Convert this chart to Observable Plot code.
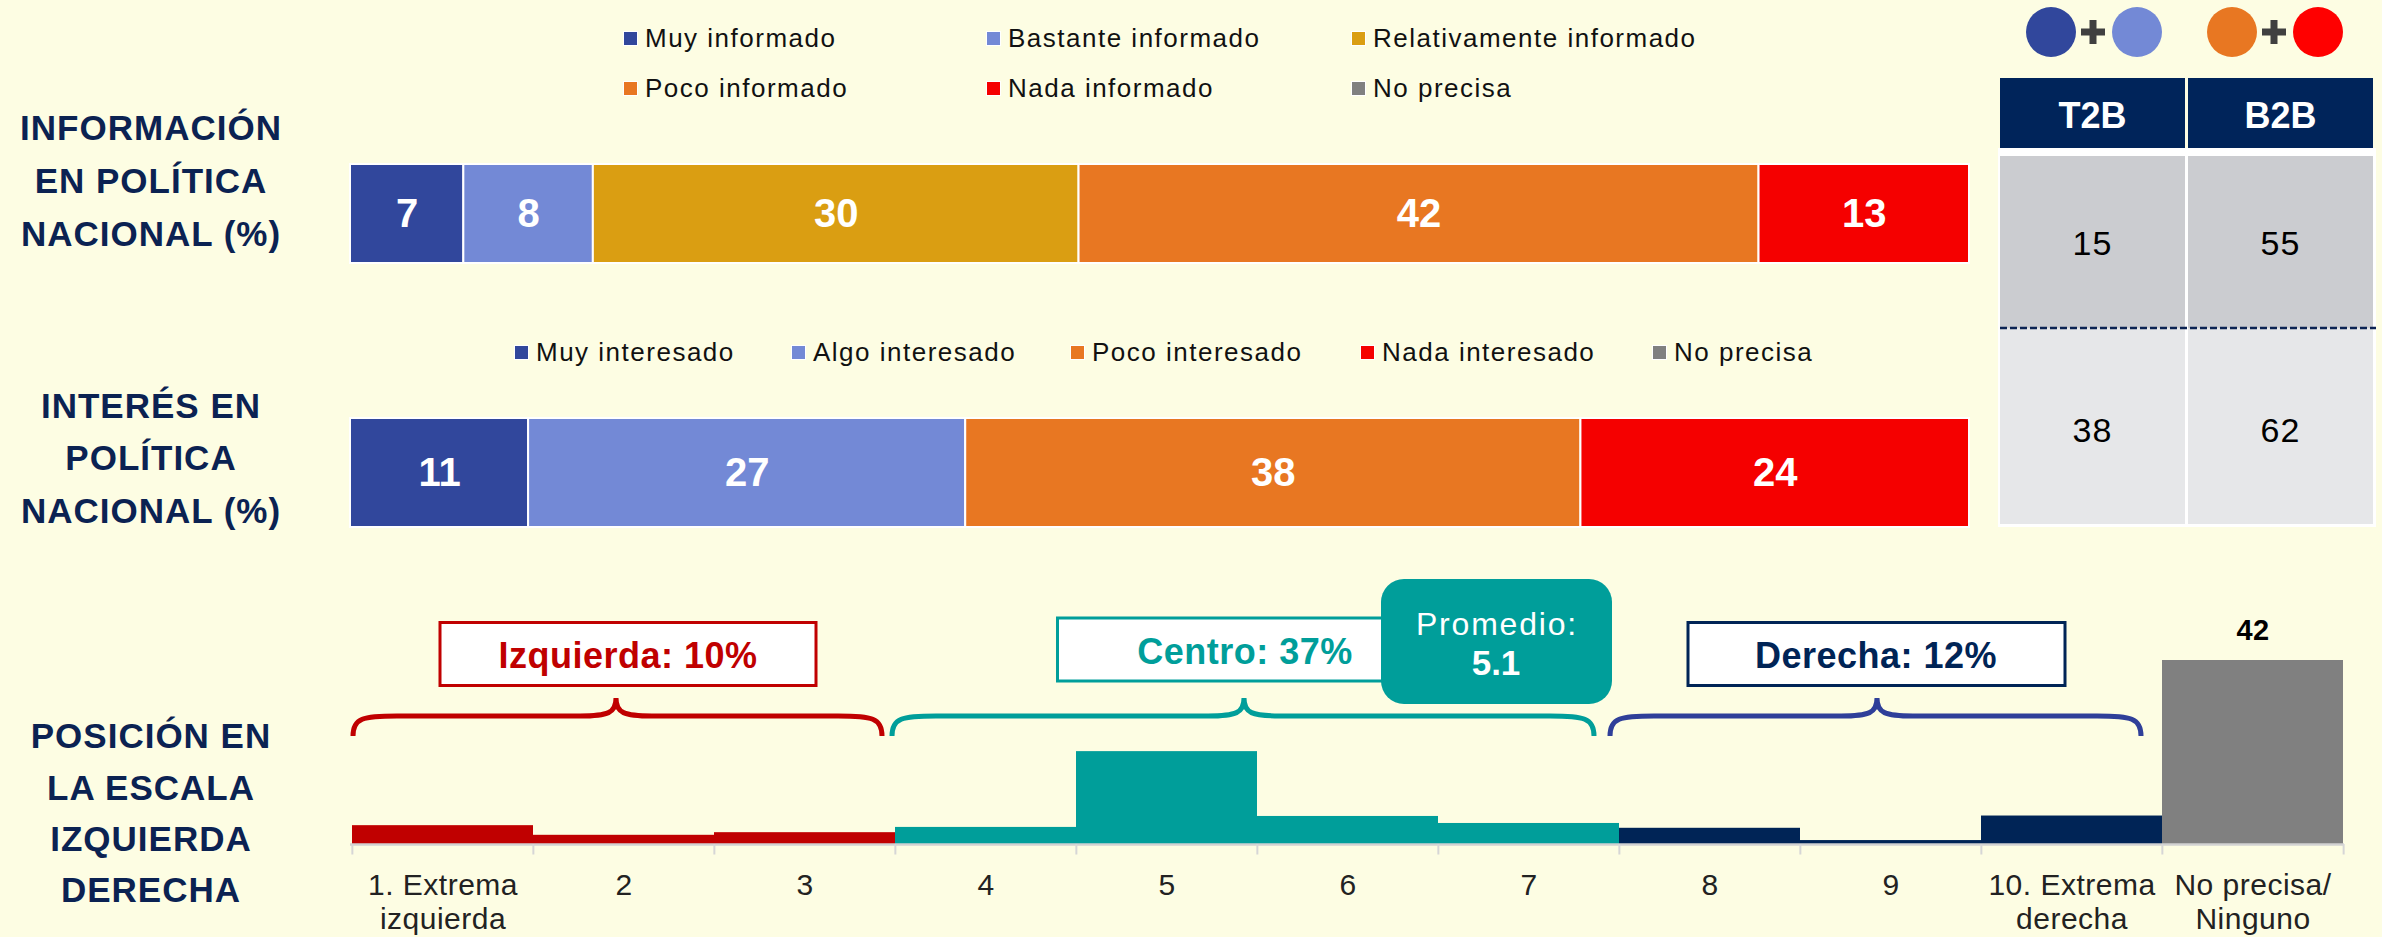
<!DOCTYPE html>
<html><head><meta charset="utf-8">
<script src="https://cdn.jsdelivr.net/npm/d3@7"></script>
<script src="https://cdn.jsdelivr.net/npm/@observablehq/plot@0.6"></script>
<style>
html,body{margin:0;padding:0;background:#fdfde3;}
#root{position:relative;width:2382px;height:937px;overflow:hidden;background:#fdfde3;font-family:"Liberation Sans",Arial,Helvetica,sans-serif;}
.title{position:absolute;left:0;width:302px;text-align:center;font-weight:bold;font-size:35px;letter-spacing:1px;color:#0b2252;}
.lg{position:absolute;display:flex;align-items:center;height:40px;font-size:26px;letter-spacing:1.5px;color:#111;white-space:nowrap;}
.sw{width:13px;height:13px;margin-right:8px;box-shadow:0 0 0 1px #fff;flex:none;}
</style></head><body><div id="root"></div>
<script>
// ---------- DATA ----------
const infoCats = ["Muy informado","Bastante informado","Relativamente informado","Poco informado","Nada informado","No precisa"];
const infoValues = [7, 8, 30, 42, 13, 0];
const infoColors = ["#31479c","#7389d6","#da9e12","#e87722","#f50000","#808080"];

const interesCats = ["Muy interesado","Algo interesado","Poco interesado","Nada interesado","No precisa"];
const interesValues = [11, 27, 38, 24, 0];
const interesColors = ["#31479c","#7389d6","#e87722","#f50000","#808080"];

const tableCols = ["T2B","B2B"];
const tableInfo = [15, 55];
const tableInteres = [38, 62];

const scaleCats = ["1","2","3","4","5","6","7","8","9","10","NP"];
const scaleLabels = ["1. Extrema\nizquierda","2","3","4","5","6","7","8","9","10. Extrema\nderecha","No precisa/\nNinguno"];
const scaleValues = [4.3, 2.1, 2.7, 3.9, 21.2, 6.4, 4.8, 3.7, 0.9, 6.5, 42];
const scaleGroups = ["Izquierda","Izquierda","Izquierda","Centro","Centro","Centro","Centro","Derecha","Derecha","Derecha","No precisa"];
const groupNames = ["Izquierda","Centro","Derecha","No precisa"];
const groupColors = ["#c00000","#009e9a","#002456","#808080"];
const groupTotals = [10, 37, 12];
const promedio = 5.1;

const titleInfo = ["INFORMACIÓN","EN POLÍTICA","NACIONAL (%)"];
const titleInteres = ["INTERÉS EN","POLÍTICA","NACIONAL (%)"];
const titlePos = ["POSICIÓN EN","LA ESCALA","IZQUIERDA","DERECHA"];

// ---------- LAYOUT ----------
const W = 2382, H = 937;
const FONT = "'Liberation Sans', Arial, Helvetica, sans-serif";
const root = document.getElementById("root");

function addTitle(lines, centerFirst, lh) {
  const d = document.createElement("div");
  d.className = "title";
  d.style.top = (centerFirst - lh / 2) + "px";
  d.style.lineHeight = lh + "px";
  d.innerHTML = lines.join("<br>");
  root.appendChild(d);
}
addTitle(titleInfo, 127, 53);
addTitle(titleInteres, 406, 52.5);
addTitle(titlePos, 736, 51.3);

function addLegend(cats, colors, items) {
  items.forEach(([i, x, cy]) => {
    const d = document.createElement("div");
    d.className = "lg";
    d.style.left = x + "px";
    d.style.top = (cy - 20) + "px";
    const s = document.createElement("span");
    s.className = "sw"; s.style.background = colors[i];
    const t = document.createElement("span");
    t.textContent = cats[i];
    d.appendChild(s); d.appendChild(t);
    root.appendChild(d);
  });
}
addLegend(infoCats, infoColors, [[0,624,38.5],[1,987,38.5],[2,1352,38.5],[3,624,88.5],[4,987,88.5],[5,1352,88.5]]);
addLegend(interesCats, interesColors, [[0,515,352],[1,792,352],[2,1071,352],[3,1361,352],[4,1653,352]]);

function place(svg) {
  svg.style.position = "absolute";
  svg.style.left = "0px";
  svg.style.top = "0px";
  root.appendChild(svg);
}

function stackedBar(cats, values, colors, top, bottom) {
  const data = cats.map((c, i) => ({cat: c, value: values[i], row: "r"})).filter(d => d.value > 0);
  return Plot.plot({
    width: W, height: H,
    marginLeft: 350, marginRight: W - 1969, marginTop: top, marginBottom: H - bottom,
    style: `background:transparent;max-width:none;overflow:visible;font-family:${FONT};`,
    x: {domain: [0, 100], axis: null},
    y: {type: "band", domain: ["r"], padding: 0, axis: null},
    color: {domain: cats, range: colors},
    marks: [
      Plot.barX(data, Plot.stackX({x: "value", y: "row", fill: "cat", stroke: "#ffffff", strokeWidth: 2})),
      Plot.text(data, Plot.stackX({x: "value", y: "row", text: d => String(d.value), fill: "#ffffff", fontSize: 40, fontWeight: "bold"}))
    ]
  });
}
place(stackedBar(infoCats, infoValues, infoColors, 164, 263));
place(stackedBar(interesCats, interesValues, interesColors, 418, 527));

// bottom histogram
const posData = scaleCats.map((c, i) => ({cat: c, value: scaleValues[i], group: scaleGroups[i], label: scaleLabels[i]}));
const bw = (2344 - 350) / scaleCats.length;
const hist = Plot.plot({
  width: W, height: H,
  marginLeft: 350, marginRight: W - 2344, marginTop: 660, marginBottom: H - 844,
  style: `background:transparent;max-width:none;overflow:visible;font-family:${FONT};letter-spacing:0.5px;`,
  x: {type: "band", domain: scaleCats, padding: 0, axis: null},
  y: {domain: [0, 42], axis: null},
  color: {domain: groupNames, range: groupColors},
  marks: [
    Plot.barY(posData, {x: "cat", y: "value", fill: "group"}),
    Plot.ruleY([0], {stroke: "#d2d2d2", strokeWidth: 2.5}),
    Plot.ruleX(scaleCats, {x: d => d, y1: 0, y2: -2.4, dx: -bw / 2, stroke: "#d6d6d6", strokeWidth: 2}),
    Plot.ruleX(scaleCats.slice(-1), {x: d => d, y1: 0, y2: -2.4, dx: bw / 2, stroke: "#d6d6d6", strokeWidth: 2}),
    Plot.text(posData, {x: "cat", y: 0, text: "label", lineAnchor: "top", dy: 27, fontSize: 30, lineHeight: 1.12, fill: "#222222"}),
    Plot.text(posData.filter(d => d.group === "No precisa"), {x: "cat", y: "value", text: d => String(d.value), dy: -30, fontSize: 29, fontWeight: "bold", fill: "#000000"})
  ]
});
place(hist);

// ---------- ANNOTATIONS (boxes, braces, table, circles) ----------
function brace(x0, x1, xm) {
  const yb = 736, yl = 716, yt = 698, r = 44, tw = 36;
  return `M${x0},${yb} C${x0},${yl + 2} ${x0 + 10},${yl} ${x0 + r},${yl} L${xm - tw},${yl} C${xm - 8},${yl} ${xm},${yl - 3} ${xm},${yt} C${xm},${yl - 3} ${xm + 8},${yl} ${xm + tw},${yl} L${x1 - r},${yl} C${x1 - 10},${yl} ${x1},${yl + 2} ${x1},${yb}`;
}
const navyBrace = "#2f3f99";
const col = (name) => groupColors[groupNames.indexOf(name)];
let s = `<svg xmlns="http://www.w3.org/2000/svg" width="${W}" height="${H}" style="position:absolute;left:0;top:0;font-family:${FONT}">`;
// braces
s += `<path d="${brace(353, 882, 616)}" fill="none" stroke="${col("Izquierda")}" stroke-width="5"/>`;
s += `<path d="${brace(892, 1594, 1244)}" fill="none" stroke="${col("Centro")}" stroke-width="5"/>`;
s += `<path d="${brace(1610, 2141, 1877)}" fill="none" stroke="${navyBrace}" stroke-width="5"/>`;
// group boxes
s += `<rect x="440" y="622.5" width="376" height="63" fill="#fff" stroke="${col("Izquierda")}" stroke-width="3"/>`;
s += `<text x="628" y="655.5" dy="0.35em" text-anchor="middle" font-size="36" font-weight="bold" letter-spacing="0.5" fill="${col("Izquierda")}">${groupNames[0]}: ${groupTotals[0]}%</text>`;
s += `<rect x="1057.5" y="618" width="370" height="63" fill="#fff" stroke="${col("Centro")}" stroke-width="3"/>`;
s += `<text x="1245" y="651" dy="0.35em" text-anchor="middle" font-size="36" font-weight="bold" letter-spacing="0.5" fill="${col("Centro")}">${groupNames[1]}: ${groupTotals[1]}%</text>`;
s += `<rect x="1688" y="622.5" width="377" height="63" fill="#fff" stroke="${col("Derecha")}" stroke-width="3"/>`;
s += `<text x="1876" y="655.5" dy="0.35em" text-anchor="middle" font-size="36" font-weight="bold" letter-spacing="0.5" fill="${col("Derecha")}">${groupNames[2]}: ${groupTotals[2]}%</text>`;
// promedio
s += `<rect x="1381" y="579" width="231" height="125" rx="23" ry="23" fill="${col("Centro")}"/>`;
s += `<text x="1497" y="624" dy="0.35em" text-anchor="middle" font-size="32" letter-spacing="1.8" fill="#fff">Promedio:</text>`;
s += `<text x="1496" y="663" dy="0.35em" text-anchor="middle" font-size="35" font-weight="bold" fill="#fff">${promedio.toFixed(1)}</text>`;
// circles
const circ = [[2051, infoColors[0]], [2137, infoColors[1]], [2232, infoColors[3]], [2318, "#ff0000"]];
circ.forEach(([cx, c]) => { s += `<circle cx="${cx}" cy="32" r="25" fill="${c}"/>`; });
[2093, 2274].forEach(px => {
  s += `<path d="M${px - 12},32 H${px + 12} M${px},20 V44" stroke="#404040" stroke-width="7"/>`;
});
// table
s += `<rect x="1998" y="148" width="378" height="379" fill="#ffffff"/>`;
const cx = [2000, 2188], cw = 185;
tableCols.forEach((h, j) => {
  s += `<rect x="${cx[j]}" y="78" width="${cw}" height="70" fill="#00245a"/>`;
  s += `<text x="${cx[j] + cw / 2}" y="115" dy="0.35em" text-anchor="middle" font-size="36" font-weight="bold" fill="#fff">${h}</text>`;
  s += `<rect x="${cx[j]}" y="156" width="${cw}" height="172" fill="#cbccd0"/>`;
  s += `<rect x="${cx[j]}" y="328" width="${cw}" height="196" fill="#e6e7e9"/>`;
  s += `<text x="${cx[j] + cw / 2}" y="243" dy="0.35em" text-anchor="middle" font-size="34" letter-spacing="1" fill="#000">${tableInfo[j]}</text>`;
  s += `<text x="${cx[j] + cw / 2}" y="430" dy="0.35em" text-anchor="middle" font-size="34" letter-spacing="1" fill="#000">${tableInteres[j]}</text>`;
});
s += `<line x1="2000" x2="2376" y1="328" y2="328" stroke="#0b2252" stroke-width="2.5" stroke-dasharray="7,3"/>`;
s += `</svg>`;
const holder = document.createElement("div");
holder.innerHTML = s;
root.appendChild(holder.firstChild);
</script>
</body></html>
